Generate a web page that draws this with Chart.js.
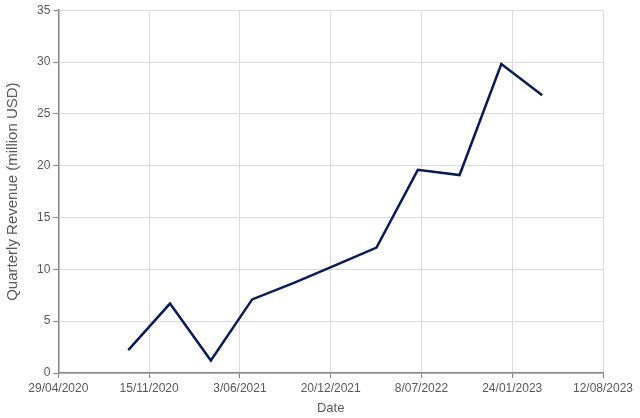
<!DOCTYPE html>
<html>
<head>
<meta charset="utf-8">
<script src="https://cdn.jsdelivr.net/npm/chart.js@4/dist/chart.umd.min.js"></script>
<style>
  html, body { margin: 0; padding: 0; background: #fff; }
  #wrap { width: 640px; height: 418px; }
</style>
</head>
<body>
<div id="wrap"><canvas id="revChart"></canvas></div>
<script>
// Quarter end dates and revenue (million USD)
const quarterDates = ['30/09/2020', '31/12/2020', '31/03/2021', '30/06/2021', '30/09/2021',
  '31/12/2021', '31/03/2022', '30/06/2022', '30/09/2022', '31/12/2022', '31/03/2023'];
const revenue = [2.2, 6.7, 1.2, 7.1, 8.7, 10.4, 12.1, 19.6, 19.1, 29.8, 26.8];

// axis range (Excel-style date axis, 200 day steps)
const axisStart = '29/04/2020';
const axisEnd = '12/08/2023';
const stepDays = 200;

const DAY = 86400000;
function parseDate(s) {
  const [d, m, y] = s.split('/').map(Number);
  return Date.UTC(y, m - 1, d);
}
const t0 = parseDate(axisStart);
function toDays(s) { return Math.round((parseDate(s) - t0) / DAY); }
function fmtDays(v) {
  const dt = new Date(t0 + v * DAY);
  const mm = String(dt.getUTCMonth() + 1).padStart(2, '0');
  return dt.getUTCDate() + '/' + mm + '/' + dt.getUTCFullYear();
}

const points = quarterDates.map((d, i) => ({ x: toDays(d), y: revenue[i] }));

const textCol = '#595959';
const font = { family: 'Liberation Sans', size: 12 };

new Chart(document.getElementById('revChart'), {
  type: 'line',
  data: {
    datasets: [{
      data: points,
      borderColor: '#0a1c58',
      borderWidth: 2.5,
      pointRadius: 0,
      tension: 0,
      fill: false
    }]
  },
  options: {
    responsive: true,
    maintainAspectRatio: false,
    animation: false,
    layout: { padding: { left: 4, right: 37, top: 10, bottom: 2 } },
    plugins: { legend: { display: false }, tooltip: { enabled: false } },
    scales: {
      x: {
        type: 'linear',
        min: 0,
        max: toDays(axisEnd),
        ticks: {
          stepSize: stepDays,
          color: textCol,
          font: font,
          maxRotation: 0,
          padding: 3,
          callback: v => fmtDays(v)
        },
        grid: { color: '#dcdcdc', tickColor: '#868686', tickLength: 5 },
        border: { color: '#868686', width: 1.5 },
        title: { display: true, text: 'Date', color: textCol, font: { family: 'Liberation Sans', size: 13 }, padding: { top: 2, bottom: 0 } }
      },
      y: {
        min: 0,
        max: 35,
        ticks: { stepSize: 5, color: textCol, font: font, padding: 3 },
        grid: { color: '#dcdcdc', tickColor: '#868686', tickLength: 5 },
        border: { color: '#868686', width: 1.5 },
        title: { display: true, text: 'Quarterly Revenue (million USD)', color: textCol, font: { family: 'Liberation Sans', size: 15 }, padding: { top: 0, bottom: 12 } }
      }
    }
  }
});
</script>
</body>
</html>
